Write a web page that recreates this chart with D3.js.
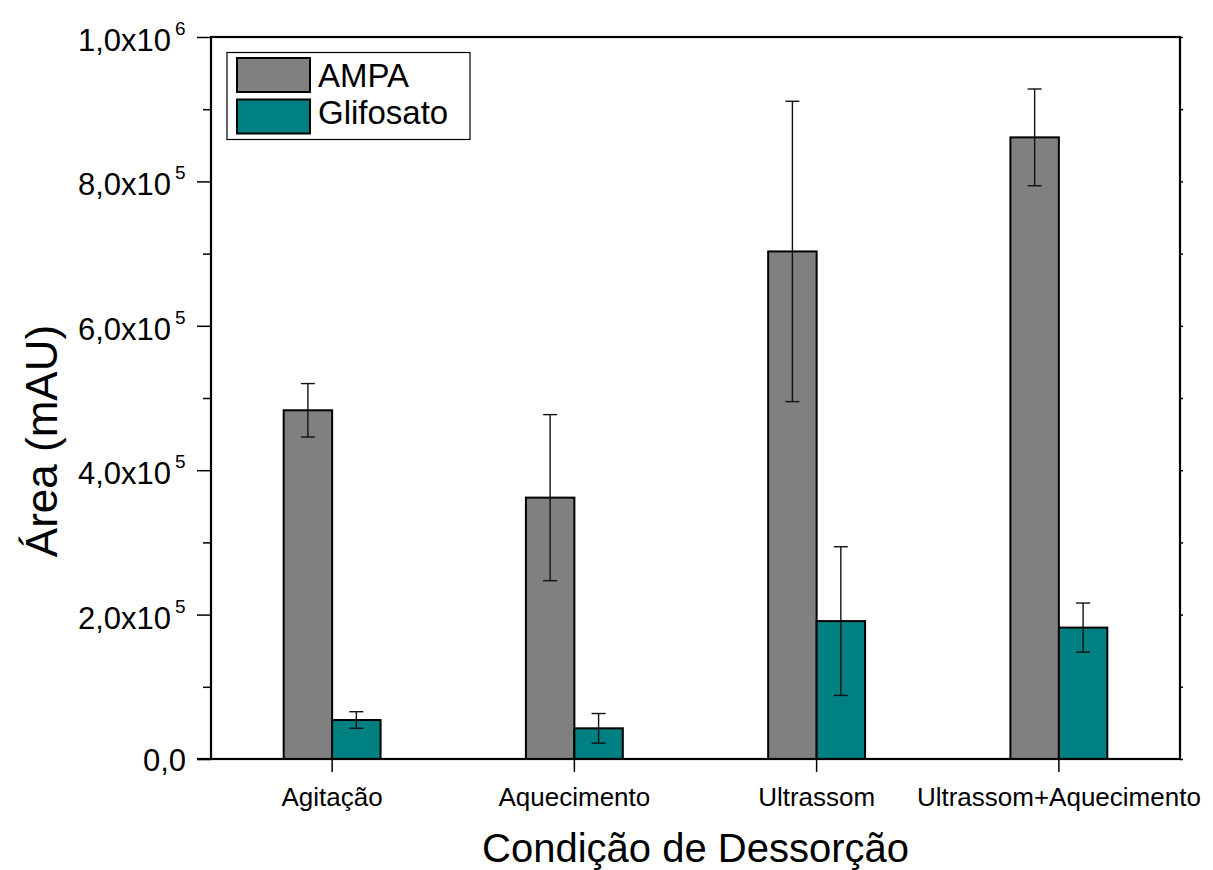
<!DOCTYPE html>
<html>
<head>
<meta charset="utf-8">
<script src="https://cdn.jsdelivr.net/npm/d3@7"></script>
<style>
  html, body { margin: 0; padding: 0; background: #fff; }
  svg { display: block; font-family: "Liberation Sans", Arial, sans-serif; }
</style>
</head>
<body>
<svg id="chart" width="1213" height="870"></svg>
<script>
// Desorption conditions and peak areas (mAU) with standard deviations
const categories = ["Agitação", "Aquecimento", "Ultrassom", "Ultrassom+Aquecimento"];
const seriesNames = ["AMPA", "Glifosato"];
const ampaValues = [483000, 362000, 703000, 861000];
const ampaErrors = [37000, 115000, 208000, 67000];
const glifosatoValues = [54000, 42500, 191000, 182000];
const glifosatoErrors = [11500, 20500, 103000, 34000];
const yTickValues = [0, 200000, 400000, 600000, 800000, 1000000];
const yTickMantissa = ["0,0", "2,0", "4,0", "6,0", "8,0", "1,0"];
const yTickExponent = ["", "5", "5", "5", "5", "6"];
const colors = ["#808080", "#008080"];

const series = [
  { name: seriesNames[0], values: ampaValues, errors: ampaErrors, color: colors[0] },
  { name: seriesNames[1], values: glifosatoValues, errors: glifosatoErrors, color: colors[1] }
];

const FONT = "'Liberation Sans', Arial, sans-serif";
const svg = d3.select("#chart");
const frame = { left: 211, right: 1180, top: 37, bottom: 759 };

const x = d3.scaleBand().domain(categories).range([frame.left, frame.right]).padding(0);
const y = d3.scaleLinear().domain([0, 1000000]).range([frame.bottom, frame.top]);

const barW = x.bandwidth() * 0.2;

// bars: AMPA left of the category centre, Glifosato right of it
series.forEach((s, si) => {
  const g = svg.append("g");
  categories.forEach((c, i) => {
    const cx = x(c) + x.bandwidth() / 2;
    const x0 = si === 0 ? cx - barW : cx;
    g.append("rect")
      .attr("x", x0)
      .attr("y", y(s.values[i]))
      .attr("width", barW)
      .attr("height", y(0) - y(s.values[i]))
      .attr("fill", s.color)
      .attr("stroke", "#000")
      .attr("stroke-width", 2);
  });
});

// error bars (± standard deviation)
series.forEach((s, si) => {
  const g = svg.append("g").attr("stroke", "#111").attr("stroke-width", 1.4).attr("fill", "none");
  categories.forEach((c, i) => {
    const cx = x(c) + x.bandwidth() / 2;
    const ex = si === 0 ? cx - barW / 2 : cx + barW / 2;
    const hi = y(s.values[i] + s.errors[i]);
    const lo = y(s.values[i] - s.errors[i]);
    g.append("line").attr("x1", ex).attr("x2", ex).attr("y1", hi).attr("y2", lo);
    g.append("line").attr("x1", ex - 7).attr("x2", ex + 7).attr("y1", hi).attr("y2", hi);
    g.append("line").attr("x1", ex - 7).attr("x2", ex + 7).attr("y1", lo).attr("y2", lo);
  });
});

// left axis: major ticks, minor ticks between them
const minorTicks = d3.range(100000, 1000000, 200000);
svg.append("g").attr("transform", `translate(${frame.left},0)`)
  .call(d3.axisLeft(y).tickValues(yTickValues).tickSize(14).tickFormat(""))
  .call(g => g.select(".domain").remove())
  .selectAll(".tick line").attr("stroke", "#000").attr("stroke-width", 1.5);
svg.append("g").attr("transform", `translate(${frame.left},0)`)
  .call(d3.axisLeft(y).tickValues(minorTicks).tickSize(8).tickFormat(""))
  .call(g => g.select(".domain").remove())
  .selectAll(".tick line").attr("stroke", "#000").attr("stroke-width", 1.5);

// y tick labels in scientific notation with superscript exponents
const labels = svg.append("g").attr("font-family", FONT).attr("fill", "#000");
yTickValues.forEach((v, i) => {
  if (yTickExponent[i]) {
    labels.append("text")
      .attr("x", 171).attr("y", y(v) + 14)
      .attr("text-anchor", "end").attr("font-size", 31)
      .text(yTickMantissa[i] + "x10");
    labels.append("text")
      .attr("x", 175).attr("y", y(v) - 2)
      .attr("text-anchor", "start").attr("font-size", 19)
      .text(yTickExponent[i]);
  } else {
    labels.append("text")
      .attr("x", 186).attr("y", y(v) + 12)
      .attr("text-anchor", "end").attr("font-size", 31)
      .text(yTickMantissa[i]);
  }
});

// right axis: short ticks
svg.append("g").attr("transform", `translate(${frame.right},0)`)
  .call(d3.axisRight(y).tickValues(d3.range(0, 1000001, 100000)).tickSize(3).tickFormat(""))
  .call(g => g.select(".domain").remove())
  .selectAll(".tick line").attr("stroke", "#000").attr("stroke-width", 1.5);

// bottom axis: ticks at category centres
const bottomAxis = svg.append("g").attr("transform", `translate(0,${frame.bottom})`)
  .call(d3.axisBottom(x).tickSize(13));
bottomAxis.select(".domain").remove();
bottomAxis.selectAll(".tick line").attr("stroke", "#000").attr("stroke-width", 1.5);
bottomAxis.selectAll(".tick text")
  .attr("y", 47).attr("dy", 0)
  .attr("font-size", 26)
  .attr("font-family", FONT)
  .attr("fill", "#000");

// plot frame
svg.append("rect")
  .attr("x", frame.left).attr("y", frame.top)
  .attr("width", frame.right - frame.left)
  .attr("height", frame.bottom - frame.top)
  .attr("fill", "none").attr("stroke", "#000").attr("stroke-width", 2.2);
svg.append("line")
  .attr("x1", 197).attr("x2", frame.left)
  .attr("y1", frame.bottom).attr("y2", frame.bottom)
  .attr("stroke", "#000").attr("stroke-width", 2.2);

// axis titles
svg.append("text")
  .attr("x", (frame.left + frame.right) / 2)
  .attr("y", 862)
  .attr("text-anchor", "middle")
  .attr("font-family", FONT)
  .attr("font-size", 40)
  .text("Condição de Dessorção");
svg.append("text")
  .attr("transform", "translate(57,441) rotate(-90)")
  .attr("text-anchor", "middle")
  .attr("font-family", FONT)
  .attr("font-size", 44)
  .text("Área (mAU)");

// legend
const legend = svg.append("g");
legend.append("rect")
  .attr("x", 227).attr("y", 52.5).attr("width", 243).attr("height", 87)
  .attr("fill", "#fff").attr("stroke", "#000").attr("stroke-width", 1.2);
series.forEach((s, i) => {
  const top = 58 + i * 41.5;
  legend.append("rect")
    .attr("x", 237).attr("y", top).attr("width", 73).attr("height", 34)
    .attr("fill", s.color).attr("stroke", "#000").attr("stroke-width", 2);
  legend.append("text")
    .attr("x", 318).attr("y", 87 + i * 36.5)
    .attr("font-family", FONT)
    .attr("font-size", 33)
    .text(s.name);
});
</script>
</body>
</html>
